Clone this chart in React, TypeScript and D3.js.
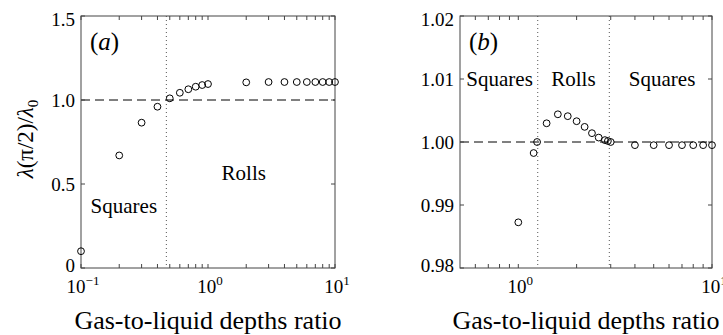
import React from "react";
import * as d3 from "d3";

// panel (a): ratio vs normalised wavelength
const aRatio = [0.1, 0.2, 0.3, 0.4, 0.5, 0.6, 0.7, 0.8, 0.9, 1, 2, 3, 4, 5, 6, 7, 8, 9, 10];
const aLambda = [0.1, 0.67, 0.865, 0.96, 1.01, 1.043, 1.064, 1.079, 1.089, 1.095, 1.105, 1.107, 1.107, 1.107, 1.107, 1.107, 1.107, 1.107, 1.107];
const aYTicks = [0, 0.5, 1.0, 1.5];
const aXTicks = [0.1, 1, 10];
const aXExp = ["\u22121", "0", "1"];
const aBoundaries = [0.47];

// panel (b)
const bRatio = [1, 1.2, 1.25, 1.4, 1.6, 1.8, 2.0, 2.2, 2.4, 2.6, 2.8, 2.9, 3.0, 4, 5, 6, 7, 8, 9, 10];
const bLambda = [0.98725, 0.99825, 1.0, 1.00297, 1.0044, 1.0041, 1.0033, 1.0024, 1.0014, 1.0007, 1.0003, 1.00016, 1.0, 0.9995, 0.9995, 0.9995, 0.9995, 0.9995, 0.9995, 0.9995];
const bYTicks = [0.98, 0.99, 1.0, 1.01, 1.02];
const bXTicks = [1, 10];
const bXExp = ["0", "1"];
const bBoundaries = [1.26, 2.95];

const FONT = "'Liberation Serif', 'Times New Roman', serif";
const AXIS = "#444";

type PanelProps = {
  x0: number;
  x1: number;
  xDomain: [number, number];
  yDomain: [number, number];
  xs: number[];
  ys: number[];
  yTicks: number[];
  yFmt: (v: number) => string;
  xTicks: number[];
  xExp: string[];
  boundaries: number[];
  tag: string;
  regions: { label: string; x: number; y: number }[];
};

function Panel(p: PanelProps) {
  const top = 16;
  const bottom = 268;
  const x = d3.scaleLog().domain(p.xDomain).range([p.x0, p.x1]);
  const y = d3.scaleLinear().domain(p.yDomain).range([bottom, top]);
  const tl = 4;

  // minor ticks 2..9 for each decade inside domain
  const minor: number[] = [];
  for (let e = -2; e <= 2; e++) {
    for (let m = 2; m <= 9; m++) {
      const v = m * Math.pow(10, e);
      if (v > p.xDomain[0] && v < p.xDomain[1]) minor.push(v);
    }
  }
  const xTickAll = [...p.xTicks, ...minor];

  return (
    <g fontFamily={FONT}>
      {/* ref line */}
      <line x1={p.x0} x2={p.x1} y1={y(1)} y2={y(1)} stroke="#000" strokeWidth={1} strokeDasharray="9,5" />
      {p.boundaries.map((b, i) => (
        <line key={"bd" + i} x1={x(b)} x2={x(b)} y1={top} y2={bottom} stroke="#555" strokeWidth={1} strokeDasharray="1,3" />
      ))}

      {/* box */}
      <rect x={p.x0} y={top} width={p.x1 - p.x0} height={bottom - top} fill="none" stroke={AXIS} strokeWidth={1} />

      {/* ticks */}
      {xTickAll.map((v, i) => (
        <g key={"xt" + i}>
          <line x1={x(v)} x2={x(v)} y1={bottom} y2={bottom - tl} stroke={AXIS} />
          <line x1={x(v)} x2={x(v)} y1={top} y2={top + tl} stroke={AXIS} />
        </g>
      ))}
      {p.yTicks.map((v, i) => {
        // labels at the ends sit a little inside, as in the original
        const cy = Math.min(Math.max(y(v), top + 3), bottom - 3);
        return (
          <g key={"yt" + i}>
            <line x1={p.x0} x2={p.x0 + tl} y1={y(v)} y2={y(v)} stroke={AXIS} />
            <line x1={p.x1} x2={p.x1 - tl} y1={y(v)} y2={y(v)} stroke={AXIS} />
            <text x={p.x0 - 6} y={cy + 7} fontSize={19} textAnchor="end" fill="#000">
              {p.yFmt(v)}
            </text>
          </g>
        );
      })}
      {p.xTicks.map((v, i) => (
        <text key={"xl" + i} x={x(v) + 2} y={293} fontSize={19} textAnchor="middle" fill="#000">
          10
          <tspan fontSize={13} dy={-8}>
            {p.xExp[i]}
          </tspan>
        </text>
      ))}

      {/* data */}
      {p.xs.map((v, i) => (
        <circle key={"pt" + i} cx={x(v)} cy={y(p.ys[i])} r={3.4} fill="none" stroke="#000" strokeWidth={1} />
      ))}

      {/* labels */}
      <text x={p.x0 + 9} y={50} fontSize={25} fill="#000">
        (<tspan fontStyle="italic">{p.tag}</tspan>)
      </text>
      {p.regions.map((r, i) => (
        <text key={"rg" + i} x={x(r.x)} y={y(r.y)} fontSize={21} fill="#000">
          {r.label}
        </text>
      ))}
      <text x={(p.x0 + p.x1) / 2} y={329} fontSize={26} textAnchor="middle" fill="#000">
        Gas-to-liquid depths ratio
      </text>
    </g>
  );
}

export default function App() {
  return (
    <svg width={723} height={335} style={{ position: "absolute", left: 0, top: 0, background: "#fff" }}>
      <rect width={723} height={335} fill="#fff" />
      <Panel
        x0={81}
        x1={335}
        xDomain={[0.1, 10]}
        yDomain={[0, 1.5]}
        xs={aRatio}
        ys={aLambda}
        yTicks={aYTicks}
        yFmt={(v) => (v === 0 ? "0" : d3.format(".1f")(v))}
        xTicks={aXTicks}
        xExp={aXExp}
        boundaries={aBoundaries}
        tag="a"
        regions={[
          { label: "Squares", x: 0.119, y: 0.327 },
          { label: "Rolls", x: 1.28, y: 0.524 },
        ]}
      />
      <Panel
        x0={460}
        x1={712}
        xDomain={[0.5, 10]}
        yDomain={[0.98, 1.02]}
        xs={bRatio}
        ys={bLambda}
        yTicks={bYTicks}
        yFmt={d3.format(".2f")}
        xTicks={bXTicks}
        xExp={bXExp}
        boundaries={bBoundaries}
        tag="b"
        regions={[
          { label: "Squares", x: 0.539, y: 1.0089 },
          { label: "Rolls", x: 1.48, y: 1.0089 },
          { label: "Squares", x: 3.72, y: 1.0089 },
        ]}
      />
      <text transform="translate(33,139) rotate(-90)" fontFamily={FONT} fontSize={23} textAnchor="middle" fill="#000">
        <tspan fontStyle="italic">λ</tspan>(π/2)/<tspan fontStyle="italic">λ</tspan>
        <tspan fontSize={15} dy={5}>0</tspan>
      </text>
    </svg>
  );
}
